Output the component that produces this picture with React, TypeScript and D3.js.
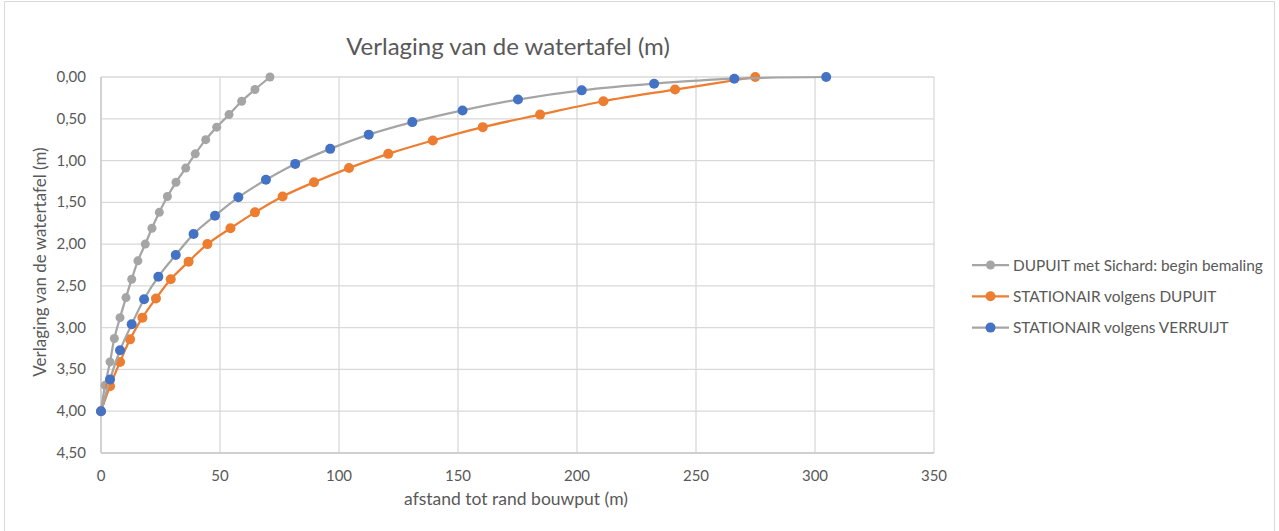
import * as d3 from "d3";

// DUPUIT met Sichard: begin bemaling
const grayX = [0, 1.7, 3.8, 5.6, 8.0, 10.5, 12.9, 15.5, 18.6, 21.4, 24.5, 27.9, 31.5, 35.6, 39.6, 44.0, 48.6, 53.8, 59.1, 64.7, 71.0];
const grayY = [4.0, 3.69, 3.41, 3.13, 2.88, 2.64, 2.42, 2.2, 2.0, 1.81, 1.62, 1.43, 1.26, 1.09, 0.92, 0.75, 0.6, 0.45, 0.29, 0.15, 0.0];

// STATIONAIR volgens DUPUIT
const orangeX = [0, 3.8, 8.0, 12.2, 17.4, 23.1, 29.3, 36.8, 44.7, 54.4, 64.7, 76.3, 89.5, 104.2, 120.7, 139.4, 160.4, 184.5, 211.1, 241.2, 274.9];
const orangeY = [4.0, 3.7, 3.41, 3.14, 2.88, 2.65, 2.42, 2.21, 2.0, 1.81, 1.62, 1.43, 1.26, 1.09, 0.92, 0.76, 0.6, 0.45, 0.29, 0.15, 0.0];

// STATIONAIR volgens VERRUIJT
const blueX = [0, 3.8, 8.0, 12.9, 18.1, 24.1, 31.4, 38.9, 47.9, 57.7, 69.3, 81.6, 96.3, 112.5, 130.8, 151.9, 175.2, 202.0, 232.4, 266.1, 304.7];
const blueY = [4.0, 3.62, 3.27, 2.96, 2.66, 2.39, 2.13, 1.88, 1.66, 1.44, 1.23, 1.04, 0.86, 0.69, 0.54, 0.4, 0.27, 0.16, 0.08, 0.02, 0.0];

const xTicks = [0, 50, 100, 150, 200, 250, 300, 350];
const yTicks = [0, 0.5, 1, 1.5, 2, 2.5, 3, 3.5, 4, 4.5];

const seriesNames = [
  "DUPUIT met Sichard: begin bemaling",
  "STATIONAIR volgens DUPUIT",
  "STATIONAIR volgens VERRUIJT",
];

const W = 1279;
const H = 531;
const FONT = "Lato, Carlito, Calibri, sans-serif";
const TXT = "#595959";

export default function App() {
  const x = d3.scaleLinear().domain([0, 350]).range([101, 934]);
  const y = d3.scaleLinear().domain([0, 4.5]).range([77, 453]);

  const series = [
    { name: seriesNames[0], xs: grayX, ys: grayY, line: "#a5a5a5", dot: "#a5a5a5", r: 4.5 },
    { name: seriesNames[1], xs: orangeX, ys: orangeY, line: "#ed7d31", dot: "#ed7d31", r: 5 },
    { name: seriesNames[2], xs: blueX, ys: blueY, line: "#a5a5a5", dot: "#4472c4", r: 5 },
  ];

  const lineGen = d3
    .line<[number, number]>()
    .x((d) => x(d[0]))
    .y((d) => y(d[1]))
    .curve(d3.curveCatmullRom.alpha(0.5));

  const fmt = (v: number) => v.toFixed(2).replace(".", ",");

  return (
    <svg
      width={W}
      height={H}
      style={{ position: "absolute", left: 0, top: 0, background: "#fff" }}
      fontFamily={FONT}
    >
      <rect x={4.5} y={1.5} width={1270} height={560} fill="#fff" stroke="#d9d9d9" />

      <text x={508} y={55} textAnchor="middle" fontSize={24} fill={TXT}>
        Verlaging van de watertafel (m)
      </text>

      {/* grid */}
      {yTicks.map((t) => (
        <line key={"gy" + t} x1={x(0)} x2={x(350)} y1={y(t)} y2={y(t)} stroke="#d9d9d9" strokeWidth={1.3} />
      ))}
      {xTicks.map((t) => (
        <line key={"gx" + t} x1={x(t)} x2={x(t)} y1={y(0)} y2={y(4.5)} stroke="#d9d9d9" strokeWidth={1.3} />
      ))}
      <line x1={x(0)} x2={x(0)} y1={y(0)} y2={y(4.5)} stroke="#c8c8c8" strokeWidth={1.3} />
      <line x1={x(0)} x2={x(350)} y1={y(4.5)} y2={y(4.5)} stroke="#c8c8c8" strokeWidth={1.3} />

      {/* tick labels */}
      {yTicks.map((t) => (
        <text key={"ly" + t} x={86} y={y(t) + 5} textAnchor="end" fontSize={15} fill={TXT}>
          {fmt(t)}
        </text>
      ))}
      {xTicks.map((t) => (
        <text key={"lx" + t} x={x(t)} y={481} textAnchor="middle" fontSize={15} fill={TXT}>
          {t}
        </text>
      ))}

      <text x={516} y={505} textAnchor="middle" fontSize={17.5} fill={TXT}>
        afstand tot rand bouwput (m)
      </text>
      <text
        transform={`translate(46,${(y(0) + y(4.5)) / 2 - 3}) rotate(-90)`}
        textAnchor="middle"
        fontSize={17}
        fill={TXT}
      >
        Verlaging van de watertafel (m)
      </text>

      {/* series */}
      {series.map((s) => {
        const pts = s.xs.map((v, i) => [v, s.ys[i]] as [number, number]);
        return (
          <g key={s.name}>
            <path d={lineGen(pts) || ""} fill="none" stroke={s.line} strokeWidth={2.25} />
            {pts.map((p, i) => (
              <circle key={i} cx={x(p[0])} cy={y(p[1])} r={s.r} fill={s.dot} />
            ))}
          </g>
        );
      })}

      {/* legend */}
      {series.map((s, i) => {
        const ly = 265 + i * 31.3;
        return (
          <g key={"lg" + i}>
            <line x1={972} x2={1009} y1={ly} y2={ly} stroke={s.line} strokeWidth={2.25} />
            <circle cx={990.5} cy={ly} r={s.r} fill={s.dot} />
            <text x={1013} y={ly + 5.5} fontSize={15.4} fill={TXT}>
              {s.name}
            </text>
          </g>
        );
      })}
    </svg>
  );
}
